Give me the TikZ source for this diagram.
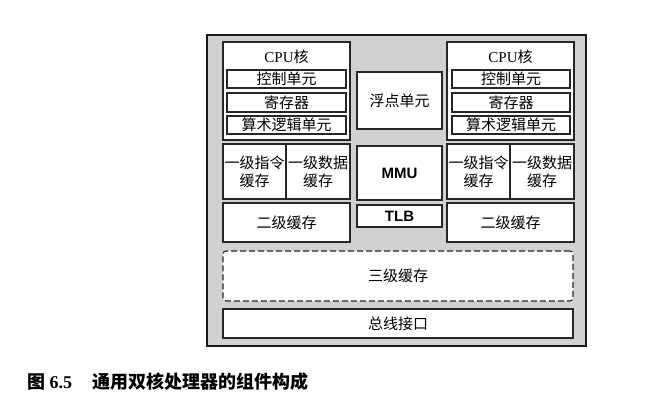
\documentclass[tikz,border=0pt]{standalone}
\usepackage{fontspec}
\setmainfont{Liberation Serif}
\newfontfamily\cjk{Noto Sans CJK SC}
\newfontfamily\arial{Liberation Sans}
\begin{document}
\begin{tikzpicture}[x=1pt,y=-1pt,
  box/.style={draw=black!85, line width=1.1pt, fill=white, inner sep=0pt,
    font=\cjk\fontsize{15}{18}\selectfont, align=center},
  dbox/.style={box, dashed, dash pattern=on 6pt off 3pt, rounded corners=3pt},
  bigtext/.style={font=\arial\bfseries\fontsize{15}{17}\selectfont},
  lbl/.style={inner sep=0pt, font=\fontsize{15}{17}\selectfont}]
\useasboundingbox (0,0) rectangle (658,406);
\fill[white] (0,0) rectangle (658,406);
% outer chip
\node[draw=black!90, line width=1.5pt, fill=black!18, inner sep=0pt,
  minimum width=379pt, minimum height=311pt] (chip) at (396.5,190.5) {};
% left core
\node[box, minimum width=127pt, minimum height=98pt] (coreL) at (286.5,91) {};
\node[lbl] (coreLt) at (286.5,57) {CPU{\cjk 核}};
\node[box, minimum width=119pt, minimum height=18pt] (cuL) at (286.5,79) {控制单元};
\node[box, minimum width=119pt, minimum height=19pt] (regL) at (286.5,102.5) {寄存器};
\node[box, minimum width=119pt, minimum height=18pt] (aluL) at (286.5,125) {算术逻辑单元};
\node[box, minimum width=63pt, minimum height=55pt] (l1iL) at (254.5,171.5) {一级指令\\缓存};
\node[box, minimum width=64pt, minimum height=55pt] (l1dL) at (318,171.5) {一级数据\\缓存};
\node[box, minimum width=127pt, minimum height=39pt] (l2L) at (286.5,222.5) {二级缓存};
% right core
\node[box, minimum width=127pt, minimum height=98pt] (coreR) at (510.5,91) {};
\node[lbl] (coreRt) at (510.5,57) {CPU{\cjk 核}};
\node[box, minimum width=118pt, minimum height=18pt] (cuR) at (511,79) {控制单元};
\node[box, minimum width=118pt, minimum height=19pt] (regR) at (511,102.5) {寄存器};
\node[box, minimum width=118pt, minimum height=18pt] (aluR) at (511,125) {算术逻辑单元};
\node[box, minimum width=63pt, minimum height=55pt] (l1iR) at (478.5,171.5) {一级指令\\缓存};
\node[box, minimum width=64pt, minimum height=55pt] (l1dR) at (542,171.5) {一级数据\\缓存};
\node[box, minimum width=127pt, minimum height=39pt] (l2R) at (510.5,222.5) {二级缓存};
% middle column
\node[box, minimum width=85pt, minimum height=57pt] (fpu) at (399.5,100.5) {浮点单元};
\node[box, minimum width=85pt, minimum height=54pt, bigtext] (mmu) at (399.5,173) {MMU};
\node[box, minimum width=85pt, minimum height=22pt, bigtext] (tlb) at (399.5,216) {TLB};
% shared
\node[dbox, minimum width=350pt, minimum height=50pt] (l3) at (398,276) {三级缓存};
\node[box, minimum width=350pt, minimum height=29pt] (bus) at (398,323.5) {总线接口};
% caption
\node[anchor=west, inner sep=0pt, font=\bfseries\fontsize{18}{20}\selectfont] (cap) at (27,382)
  {{\cjk 图} 6.5\hspace{20pt}{\cjk 通用双核处理器的组件构成}};
\end{tikzpicture}
\end{document}
